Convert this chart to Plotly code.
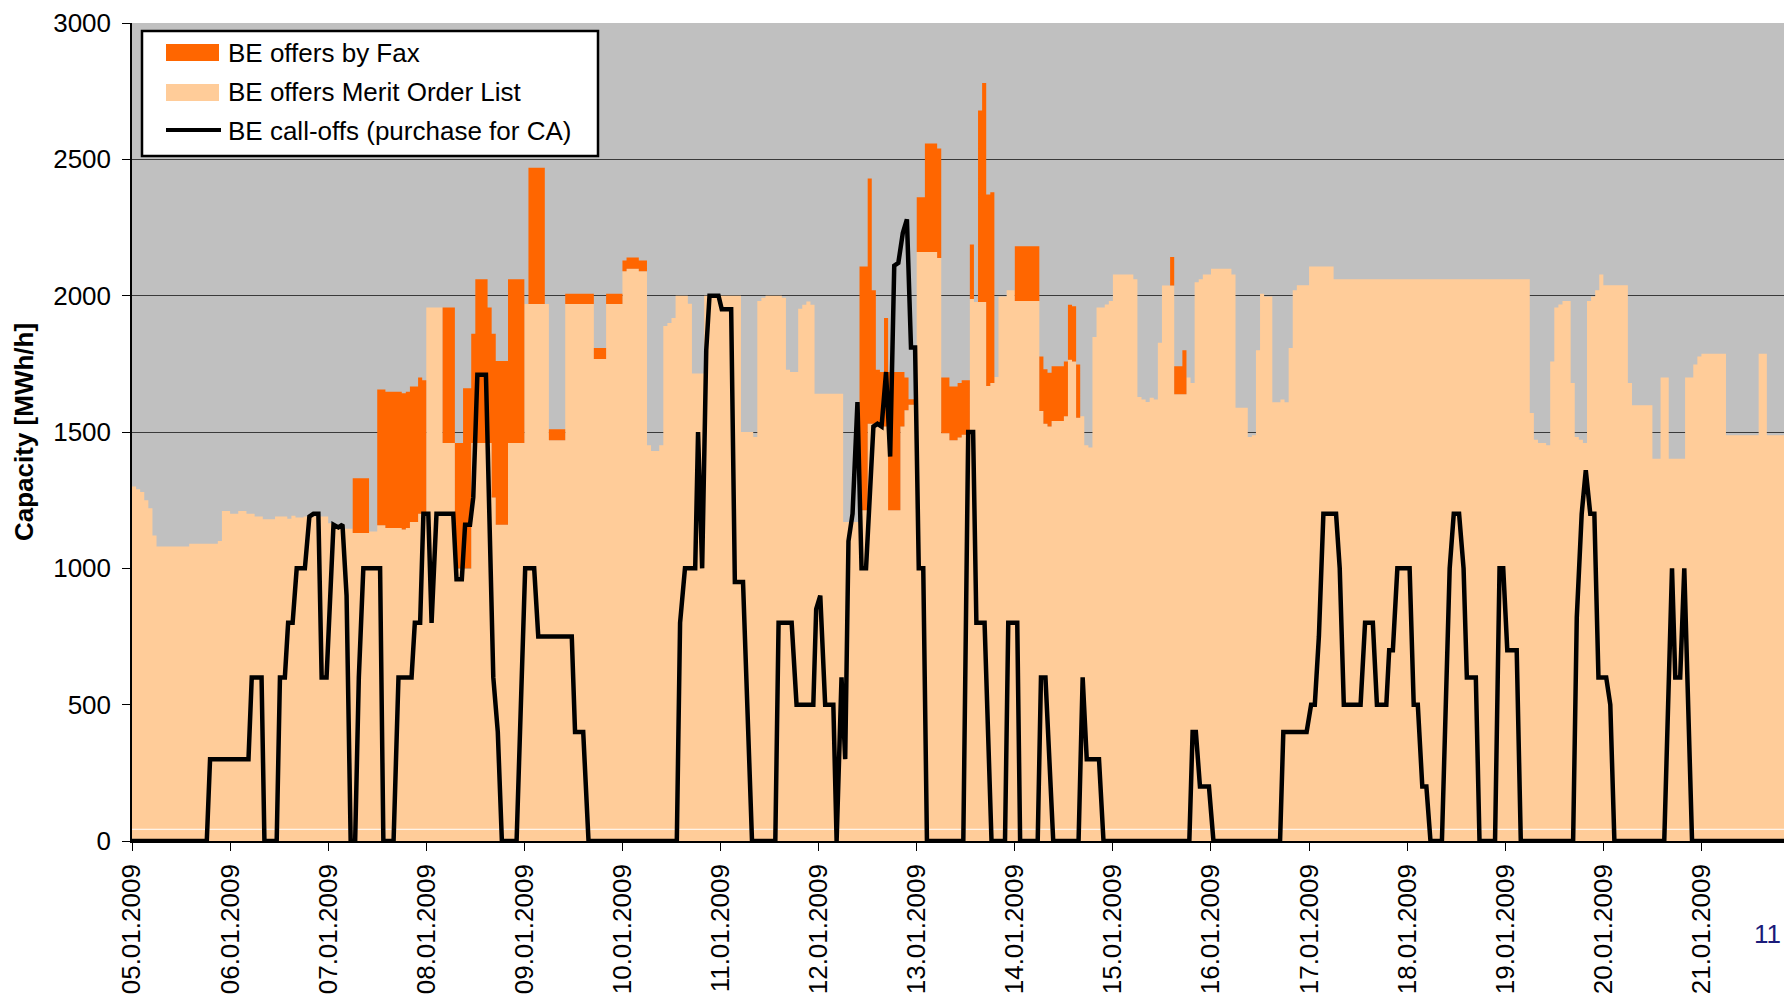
import plotly.graph_objects as go
import pandas as pd

# ---------------- data ----------------
BASE = pd.Timestamp("2009-01-05 00:00")
END_HOUR = 405          # data runs on past the visible right edge
VIEW_END_HOUR = 404.2   # right edge of the visible window

# offer blocks: start hour (from 05.01.2009 00:00), merit order list, fax offers [MWh/h]
SEG_START = [0, 1, 2, 3, 4, 5, 6, 14, 21, 22, 24, 26, 28, 30, 32, 35, 38, 39, 40, 42,
             48, 49, 52, 54, 58, 60, 62, 66, 67, 68, 70, 71, 72, 76, 79, 81, 83, 84, 87, 88,
             89, 92, 96, 97, 101, 102, 106, 113, 116, 120, 121, 124, 126, 127, 129, 130, 131, 132, 133, 136,
             137, 140, 149, 152, 153, 154, 155, 159, 160, 161, 163, 164, 165, 166, 167, 174, 178, 180, 181, 182,
             183, 184, 185, 188, 189, 190, 192, 194, 197, 198, 200, 202, 203, 205, 206, 207, 208, 209, 210, 211,
             212, 214, 216, 222, 223, 224, 225, 228, 229, 230, 231, 232, 233, 234, 235, 236, 238, 239, 240, 245,
             246, 247, 248, 249, 250, 251, 252, 254, 255, 257, 258, 259, 260, 261, 262, 264, 269, 270, 273, 274,
             275, 276, 277, 279, 281, 282, 283, 284, 285, 288, 294, 342, 343, 344, 346, 347, 348, 349, 350, 352,
             353, 354, 355, 356, 357, 358, 359, 360, 366, 367, 372, 374, 376, 380, 382, 383, 384, 390, 398, 400]
MOL = [1300, 1290, 1280, 1250, 1220, 1120, 1080, 1090, 1100, 1210, 1200, 1210, 1200, 1190, 1180, 1190, 1182, 1193, 1186, 1190,
       1165, 1160, 1145, 1130, 1135, 1158, 1148, 1142, 1148, 1170, 1200, 1200, 1957, 1460, 1000, 1000, 1460, 1460, 1460, 1260,
       1160, 1460, 1969, 1969, 1969, 1470, 1969, 1768, 1969, 2090, 2099, 2090, 1451, 1430, 1451, 1889, 1900, 1918, 2000, 1970,
       1715, 2000, 1500, 1482, 1980, 1992, 2000, 1992, 1728, 1720, 1952, 1967, 1979, 1967, 1640, 1170, 1213, 1530, 1530, 1530,
       1520, 1520, 1213, 1520, 1580, 1600, 2160, 2160, 2138, 1495, 1470, 1480, 1490, 1988, 1977, 1977, 1977, 1669, 1680, 1702,
       1997, 2020, 1980, 1577, 1530, 1520, 1540, 1558, 1765, 1759, 1552, 1558, 1451, 1443, 1848, 1957, 1968, 1980, 2078, 2060,
       1628, 1619, 1610, 1626, 1619, 1827, 2037, 2037, 1638, 1638, 1700, 1680, 2049, 2060, 2078, 2099, 2078, 1589, 1482, 1488,
       1800, 2007, 1997, 1609, 1619, 1609, 1808, 2020, 2038, 2107, 2060, 1570, 1472, 1460, 1451, 1759, 1957, 1968, 1980, 1680,
       1482, 1472, 1460, 1980, 1997, 2020, 2078, 2038, 1680, 1598, 1402, 1700, 1402, 1700, 1748, 1777, 1787, 1488, 1787, 1488]
FAX = [0, 0, 0, 0, 0, 0, 0, 0, 0, 0, 0, 0, 0, 0, 0, 0, 0, 0, 0, 0,
       0, 0, 0, 200, 0, 498, 500, 500, 500, 497, 500, 490, 0, 497, 460, 660, 400, 600, 497, 600,
       600, 600, 0, 500, 0, 40, 38, 40, 38, 39, 41, 39, 0, 0, 0, 0, 0, 0, 0, 0,
       0, 0, 0, 0, 0, 0, 0, 0, 0, 0, 0, 0, 0, 0, 0, 0, 894, 900, 490, 198,
       200, 398, 507, 200, 120, 20, 201, 398, 402, 205, 197, 200, 200, 200, 0, 702, 803, 702, 699, 0,
       0, 0, 201, 200, 200, 197, 201, 201, 202, 202, 196, 0, 0, 0, 0, 0, 0, 0, 0, 0,
       0, 0, 0, 0, 0, 0, 0, 105, 103, 162, 0, 0, 0, 0, 0, 0, 0, 0, 0, 0,
       0, 0, 0, 0, 0, 0, 0, 0, 0, 0, 0, 0, 0, 0, 0, 0, 0, 0, 0, 0,
       0, 0, 0, 0, 0, 0, 0, 0, 0, 0, 0, 0, 0, 0, 0, 0, 0, 0, 0, 0]

# call-offs: vertex hour and value [MWh/h]
CALL_H = [0, 18.3, 19.1, 28.5, 29.3, 31.7, 32.4, 35.4, 36.2, 37.4, 38.2, 39.3, 40.3, 42.3, 43.4, 44.4, 45.6, 46.4, 47.6, 49.3,
          50.5, 51.5, 52.5, 53.5, 54.6, 55.5, 56.6, 60.7, 61.5, 64, 65.2, 68.4, 69.2, 70.5, 71.3, 72.5, 73.3, 74.5, 78.6, 79.4,
          80.7, 81.5, 82.7, 83.5, 84.5, 86.6, 88.4, 89.5, 90.5, 94.1, 96.2, 98.4, 99.4, 107.6, 108.4, 110.4, 111.7, 133.3, 134.1, 135.3,
          137.8, 138.5, 139.5, 140.5, 141.3, 143.5, 144.3, 146.6, 147.5, 149.5, 151.7, 157.4, 158.2, 161.4, 162.6, 166.7, 167.4, 168.4, 169.6, 171.6,
          172.4, 173.6, 174.5, 175.3, 176.3, 177.5, 178.5, 179.6, 181.4, 182.4, 183.4, 184.5, 185.5, 186.5, 187.5, 188.6, 189.6, 190.6, 191.6, 192.5,
          193.6, 194.5, 203.4, 204.6, 205.8, 206.6, 208.6, 210.3, 213.6, 214.4, 216.6, 217.3, 221.6, 222.4, 223.5, 225.4, 231.6, 232.6, 233.6, 236.6,
          237.7, 258.7, 259.5, 260.3, 261.3, 263.5, 264.6, 280.9, 281.7, 287.4, 288.5, 289.4, 290.4, 291.5, 294.6, 295.5, 296.5, 300.6, 301.7, 303.6,
          304.6, 306.9, 307.6, 308.5, 309.6, 312.6, 313.6, 314.6, 315.7, 316.7, 317.7, 320.5, 322.4, 323.4, 324.7, 325.8, 326.6, 328.8, 329.7, 333.5,
          334.6, 335.5, 336.5, 338.8, 339.8, 352.6, 353.5, 354.7, 355.7, 356.8, 357.8, 358.8, 360.7, 361.7, 362.7, 374.9, 376.8, 377.6, 378.8, 379.8,
          381.7, 405]
CALL_V = [0, 0, 300, 300, 600, 600, 0, 0, 600, 600, 800, 800, 1000, 1000, 1190, 1200, 1200, 600, 600, 1160,
          1150, 1160, 900, 0, 0, 600, 1000, 1000, 0, 0, 600, 600, 800, 800, 1200, 1200, 800, 1200, 1200, 960,
          960, 1160, 1160, 1260, 1710, 1710, 600, 400, 0, 0, 1000, 1000, 750, 750, 400, 400, 0, 0, 800, 1000,
          1000, 1500, 1000, 1800, 2000, 2000, 1950, 1950, 950, 950, 0, 0, 800, 800, 500, 500, 850, 900, 500, 500,
          0, 600, 300, 1100, 1200, 1610, 1000, 1000, 1520, 1530, 1520, 1720, 1410, 2110, 2120, 2230, 2280, 1810, 1810, 1000,
          1000, 0, 0, 1500, 1500, 800, 800, 0, 0, 800, 800, 0, 0, 600, 600, 0, 0, 600, 300, 300,
          0, 0, 400, 400, 200, 200, 0, 0, 400, 400, 500, 500, 750, 1200, 1200, 1000, 500, 500, 800, 800,
          500, 500, 700, 700, 1000, 1000, 500, 500, 200, 200, 0, 0, 1000, 1200, 1200, 1000, 600, 600, 0, 0,
          1000, 1000, 700, 700, 0, 0, 820, 1200, 1360, 1200, 1200, 600, 600, 500, 0, 0, 1000, 600, 600, 1000,
          0, 0]

FLOOR_LEVEL = 43   # thin white line near the bottom

# ---------------- figure ----------------
W, H = 1784, 995
L, R, T, B = 132, 0, 23, 154
PW, PH = W - L - R, H - T - B
FONT = "Liberation Sans, Arial, sans-serif"


def to_dt(hours):
    return [BASE + pd.Timedelta(hours=h) for h in hours]


def px(x):   # pixel x -> paper
    return (x - L) / PW


def py(y):   # pixel y -> paper
    return (H - B - y) / PH


seg_x = to_dt(SEG_START + [END_HOUR])
mol_y = MOL + [MOL[-1]]
fax_y = FAX + [FAX[-1]]

fig = go.Figure()
fig.add_trace(go.Scatter(x=seg_x, y=mol_y, stackgroup="offers", mode="lines",
                         line=dict(width=0, shape="hv"), fillcolor="#FFCC99",
                         name="BE offers Merit Order List", showlegend=False,
                         hoverinfo="x+y"))
fig.add_trace(go.Scatter(x=seg_x, y=fax_y, stackgroup="offers", mode="lines",
                         line=dict(width=0, shape="hv"), fillcolor="#FF6600",
                         name="BE offers by Fax", showlegend=False, hoverinfo="x+y"))
fig.add_trace(go.Scatter(x=to_dt([0, END_HOUR]), y=[FLOOR_LEVEL, FLOOR_LEVEL], mode="lines",
                         line=dict(color="white", width=1), showlegend=False, hoverinfo="skip"))
fig.add_trace(go.Scatter(x=to_dt(CALL_H), y=CALL_V, mode="lines",
                         line=dict(color="black", width=4.5),
                         name="BE call-offs (purchase for CA)", showlegend=False))

# legend box drawn by hand (pixel positions converted to paper coordinates)
shapes = [
    dict(type="rect", xref="paper", yref="paper", x0=px(142), x1=px(598), y0=py(156), y1=py(31),
         fillcolor="white", line=dict(color="black", width=2.5), layer="above"),
    dict(type="rect", xref="paper", yref="paper", x0=px(166), x1=px(219), y0=py(61), y1=py(44),
         fillcolor="#FF6600", line=dict(width=0), layer="above"),
    dict(type="rect", xref="paper", yref="paper", x0=px(166), x1=px(219), y0=py(101), y1=py(84),
         fillcolor="#FFCC99", line=dict(width=0), layer="above"),
    dict(type="line", xref="paper", yref="paper", x0=px(166), x1=px(221), y0=py(130), y1=py(130),
         line=dict(color="black", width=4), layer="above"),
]
legend_texts = [("BE offers by Fax", 53), ("BE offers Merit Order List", 92),
                ("BE call-offs (purchase for CA)", 131)]
annotations = [dict(text=t, xref="paper", yref="paper", x=px(226), y=py(yy), xanchor="left",
                    yanchor="middle", showarrow=False, font=dict(family=FONT, size=26, color="black"))
               for t, yy in legend_texts]
annotations.append(dict(text="11", xref="paper", yref="paper", x=px(1767), y=py(934),
                        xanchor="center", yanchor="middle", showarrow=False,
                        font=dict(family=FONT, size=26, color="#1b1b7a")))

fig.update_layout(
    width=W, height=H,
    margin=dict(l=L, r=R, t=T, b=B, autoexpand=False),
    paper_bgcolor="white", plot_bgcolor="#C0C0C0",
    font=dict(family=FONT, size=26, color="black"),
    showlegend=False,
    shapes=shapes, annotations=annotations,
    xaxis=dict(type="date",
               range=[BASE, BASE + pd.Timedelta(hours=VIEW_END_HOUR)],
               tickmode="linear", tick0=BASE, dtick=86400000,
               tickformat="%d.%m.%Y", tickangle=-90,
               ticks="outside", ticklen=8, tickwidth=1, tickcolor="black",
               ticklabelstandoff=3,
               showline=True, linecolor="black", linewidth=1.5,
               showgrid=False, zeroline=False,
               tickfont=dict(family=FONT, size=26, color="black")),
    yaxis=dict(range=[0, 3000], tickmode="linear", tick0=0, dtick=500,
               ticks="outside", ticklen=8, tickwidth=1, tickcolor="black",
               ticklabelstandoff=6,
               showline=True, linecolor="black", linewidth=1.5,
               showgrid=True, gridcolor="#3a3a3a", gridwidth=1.3, zeroline=False,
               tickfont=dict(family=FONT, size=26, color="black"),
               title=dict(text="Capacity [MWh/h]", standoff=12,
                          font=dict(family=FONT, size=26, color="black", weight="bold"))),
)

fig.write_html("out.html",
               config={"displayModeBar": False},
               post_script="document.body.style.margin='0px';document.body.style.overflow='hidden';")
